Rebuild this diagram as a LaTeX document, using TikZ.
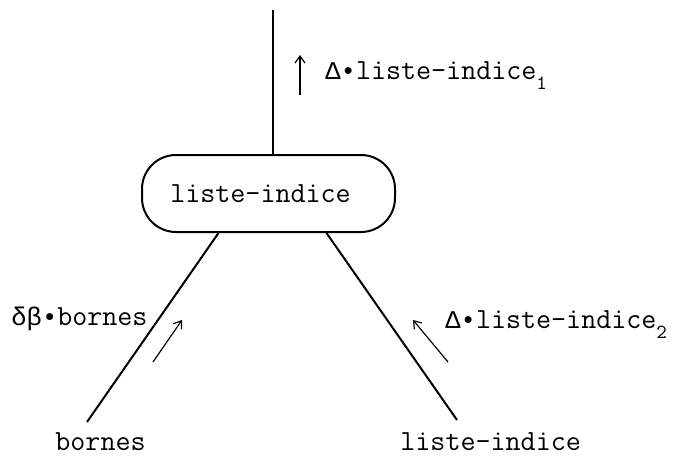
\documentclass[tikz,border=0pt]{standalone}
\usepackage{fontspec}
\newfontfamily\grkmono{Liberation Mono}
\usetikzlibrary{arrows.meta,positioning}

\newcommand{\lowidx}[1]{\raisebox{-5pt}{\fontsize{10}{10}\selectfont #1}}
\newcommand{\gk}[1]{{\grkmono\fontsize{12.75}{15}\selectfont #1}}

\begin{document}
\begin{tikzpicture}[x=0.5pt, y=-0.5pt, >={Straight Barb[length=3.5pt,width=5pt]},
    every node/.style={font=\ttfamily\fontsize{14.6}{17}\selectfont, inner sep=0pt},
    branch/.style={line width=1pt},
    flow/.style={line width=0.6pt, ->}]
    \useasboundingbox (0,0) rectangle (679,460);
    % the attribute node
    \node[draw, line width=1pt, rounded corners=17pt, minimum width=126.5pt, minimum height=38.5pt]
        (liste) at (268.5,193.5) {liste-indice\hspace*{8pt}};
    \coordinate (top) at (272.5,10);
    \coordinate (bl) at (87,422);
    \coordinate (br) at (457,420);
    \draw[branch] (top) -- (liste.north -| top);
    \draw[branch] ([xshift=-25pt]liste.south) -- (bl);
    \draw[branch] ([xshift=29pt]liste.south) -- (br);
    % leaves
    \node[anchor=base west] (bornes) at (55,450) {bornes};
    \node[anchor=base west] (listeB) at (400,450) {liste-indice};
    % flow arrows and labels
    \coordinate (upA) at (300,95);
    \coordinate (upB) at (300,55);
    \coordinate (leftA) at (153,362);
    \coordinate (leftB) at (182,320);
    \coordinate (rightA) at (448,362);
    \coordinate (rightB) at (413,320);
    \draw[flow] (upA) -- (upB);
    \draw[flow] (leftA) -- (leftB);
    \draw[flow] (rightA) -- (rightB);
    \node[anchor=base west] (labUp) at (325,80) {\gk{Δ•}liste-indice\lowidx{1}};
    \node[anchor=base west] (labLeft) at (11,325) {\gk{δβ•}bornes};
    \node[anchor=base west] (labRight) at (445,328) {\gk{Δ•}liste-indice\lowidx{2}};
\end{tikzpicture}
\end{document}
